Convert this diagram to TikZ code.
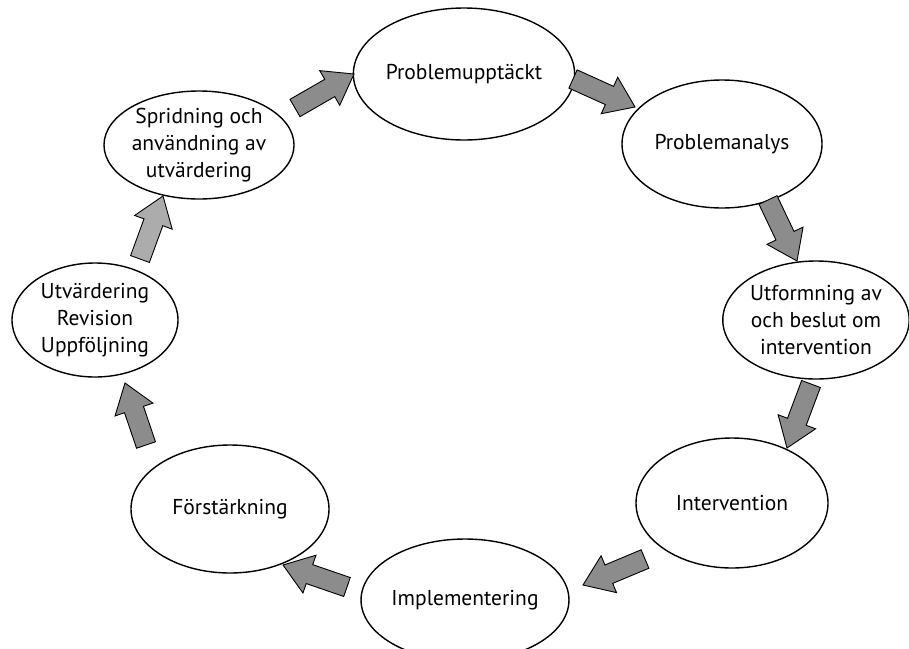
\documentclass[tikz,border=0pt]{standalone}
\usepackage{fontspec}
\setmainfont{PT Sans}
\usetikzlibrary{shapes.geometric,calc}
\definecolor{arrgray}{RGB}{140,140,140}
\definecolor{arrlight}{RGB}{172,172,172}
\tikzset{
  stage/.style={ellipse, draw, line width=1.4pt, inner sep=0pt, align=center,
    font=\fontsize{21.5}{27}\selectfont},
  blk/.style={draw=black, line width=0.9pt, line join=miter, fill=#1},
}
\newcommand\barrow[3]{%
  \coordinate (bC) at ($(#2)!28pt!(#1)$);
  \draw[blk=#3] ($(#1)!10pt!90:(#2)$) -- ($(bC)!10pt!-90:(#1)$) -- ($(bC)!20pt!-90:(#1)$) -- (#2)
    -- ($(bC)!20pt!90:(#1)$) -- ($(bC)!10pt!90:(#1)$) -- ($(#1)!10pt!-90:(#2)$) -- cycle;
}
\begin{document}
\begin{tikzpicture}[x=1pt,y=-1pt]
\useasboundingbox[fill=white] (0,0) rectangle (909,648);
\node[stage, minimum width=200pt, minimum height=132pt] (p1) at (464,74) {Problemupptäckt};
\node[stage, minimum width=200pt, minimum height=128pt] (p2) at (722,144) {Problemanalys};
\node[stage, minimum width=184pt, minimum height=118pt] (p3) at (816,320) {Utformning av\\och beslut om\\intervention};
\node[stage, minimum width=192pt, minimum height=130pt] (p4) at (732,503) {Intervention};
\node[stage, minimum width=198pt, minimum height=122pt] (p5) at (465,600) {Implementering};
\node[stage, minimum width=198pt, minimum height=128pt] (p6) at (230,509) {Förstärkning};
\node[stage, minimum width=166pt, minimum height=114pt] (p7) at (95,320) {Utvärdering\\Revision\\Uppföljning};
\node[stage, minimum width=184pt, minimum height=108pt] (p8) at (199,145) {Spridning och\\användning av\\utvärdering};
% arrow end points
\coordinate (a1s) at (295,108); \coordinate (a1e) at (354,74);
\coordinate (a2s) at (573,79);  \coordinate (a2e) at (635,107);
\coordinate (a3s) at (768,200); \coordinate (a3e) at (797,261);
\coordinate (a4s) at (811,384); \coordinate (a4e) at (787,448);
\coordinate (a5s) at (645,559); \coordinate (a5e) at (583,585);
\coordinate (a6s) at (347,587); \coordinate (a6e) at (283,565);
\coordinate (a7s) at (146,445); \coordinate (a7e) at (125,383);
\coordinate (a8s) at (140,259); \coordinate (a8e) at (163,196);
\barrow{a1s}{a1e}{arrgray}
\barrow{a2s}{a2e}{arrgray}
\barrow{a3s}{a3e}{arrgray}
\barrow{a4s}{a4e}{arrgray}
\barrow{a5s}{a5e}{arrgray}
\barrow{a6s}{a6e}{arrgray}
\barrow{a7s}{a7e}{arrgray}
\barrow{a8s}{a8e}{arrlight}
\end{tikzpicture}
\end{document}
